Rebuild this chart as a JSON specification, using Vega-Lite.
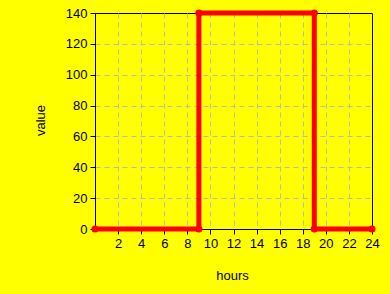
{
  "$schema": "https://vega.github.io/schema/vega-lite/v6.json",
  "autosize": {"type": "none"},
  "width": 277,
  "height": 216,
  "padding": {"left": 95, "top": 13, "right": 18, "bottom": 65},
  "background": "#ffff00",
  "config": {
    "view": {"stroke": "#000000", "strokeWidth": 1},
    "font": "Liberation Sans",
    "axis": {
      "domainColor": "#000000",
      "tickColor": "#000000",
      "tickSize": 5,
      "labelColor": "#000000",
      "labelFont": "Liberation Sans",
      "labelFontSize": 13,
      "labelFlush": false,
      "titleFont": "Liberation Sans",
      "titleFontSize": 13,
      "titleFontWeight": "normal",
      "titleColor": "#000000",
      "gridColor": "#b8b8b8",
      "gridDash": [5, 4],
      "labelPadding": 3
    }
  },
  "data": {
    "values": [
      {"i": 0, "hours": 0, "value": 0},
      {"i": 1, "hours": 9, "value": 0},
      {"i": 2, "hours": 9, "value": 140},
      {"i": 3, "hours": 19, "value": 140},
      {"i": 4, "hours": 19, "value": 0},
      {"i": 5, "hours": 24, "value": 0}
    ]
  },
  "encoding": {
    "x": {
      "field": "hours",
      "type": "quantitative",
      "scale": {"domain": [0, 24], "nice": false, "zero": false},
      "axis": {
        "values": [2, 4, 6, 8, 10, 12, 14, 16, 18, 20, 22, 24],
        "gridOpacity": {"condition": {"test": "datum.value >= 24", "value": 0}, "value": 1},
        "title": "hours",
        "titleX": 137,
        "titleY": 46,
        "titleBaseline": "middle",
        "titleAlign": "center"
      }
    },
    "y": {
      "field": "value",
      "type": "quantitative",
      "scale": {"domain": [0, 140], "nice": false},
      "axis": {
        "values": [0, 20, 40, 60, 80, 100, 120, 140],
        "gridOpacity": {"condition": {"test": "datum.value >= 140 || datum.value <= 0", "value": 0}, "value": 1},
        "title": "value",
        "titleX": -55,
        "titleY": 107,
        "titleBaseline": "middle",
        "titleAlign": "center",
        "titleAngle": -90
      }
    },
    "order": {"field": "i", "type": "quantitative"}
  },
  "layer": [
    {"mark": {"type": "line", "color": "#ff0000", "strokeWidth": 5, "clip": false}},
    {"mark": {"type": "point", "shape": "circle", "filled": true, "color": "#ff0000", "opacity": 1, "size": 50, "clip": false}}
  ]
}
